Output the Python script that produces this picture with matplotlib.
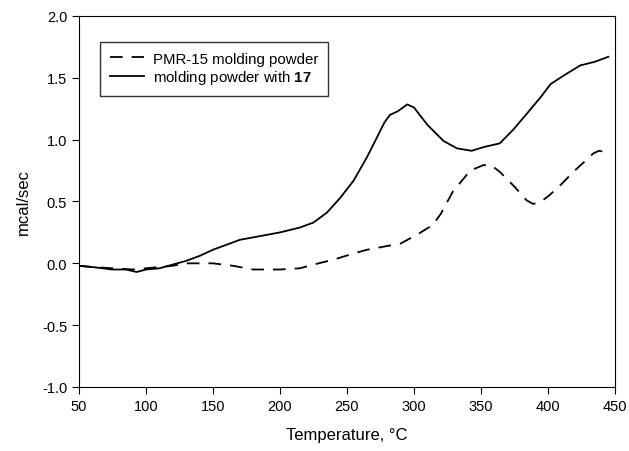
import matplotlib.pyplot as plt
import numpy as np

plt.rcParams['font.family'] = ['Liberation Sans', 'DejaVu Sans']
plt.rcParams['mathtext.fontset'] = 'custom'
plt.rcParams['mathtext.rm'] = 'Liberation Sans'
plt.rcParams['mathtext.bf'] = 'Liberation Sans:bold'

# PMR-15 molding powder (dashed)
temp_pmr = [50, 60, 75, 90, 100, 110, 120, 130, 150, 165, 180, 200, 215, 225,
            240, 255, 265, 280, 290, 302, 314, 320, 329, 342, 352, 358, 364,
            375, 384, 389, 395, 401, 410, 419, 428, 434, 438, 443]
heat_pmr = [-0.02, -0.03, -0.04, -0.05, -0.04, -0.03, -0.02, 0.0, 0.0, -0.02,
            -0.05, -0.05, -0.04, -0.01, 0.03, 0.08, 0.11, 0.14, 0.16, 0.23,
            0.31, 0.40, 0.58, 0.75, 0.795, 0.79, 0.74, 0.62, 0.51, 0.48,
            0.50, 0.55, 0.64, 0.74, 0.83, 0.89, 0.91, 0.90]

# molding powder with 17 (solid)
temp_17 = [50, 60, 75, 85, 93, 100, 110, 120, 130, 140, 150, 160, 170, 185,
           200, 215, 225, 235, 245, 255, 265, 272, 278, 282, 288, 295, 300,
           310, 322, 332, 343, 352, 364, 374, 385, 395, 402, 412, 424, 435, 445]
heat_17 = [-0.02, -0.03, -0.05, -0.05, -0.07, -0.05, -0.04, -0.01, 0.02, 0.06,
           0.11, 0.15, 0.19, 0.22, 0.25, 0.29, 0.33, 0.41, 0.53, 0.67, 0.86,
           1.01, 1.14, 1.20, 1.23, 1.285, 1.26, 1.12, 0.99, 0.93, 0.91, 0.94,
           0.97, 1.08, 1.22, 1.35, 1.45, 1.52, 1.60, 1.63, 1.67]

fig = plt.figure(figsize=(6.29, 4.52), dpi=100)
ax = fig.add_axes([0.1256, 0.1416, 0.8521, 0.8208])

ax.plot(temp_pmr, heat_pmr, color='black', lw=1.3, dashes=(7, 5),
        label='PMR-15 molding powder')
ax.plot(temp_17, heat_17, color='black', lw=1.3,
        label='molding powder with $\\mathbf{17}$')

ax.set_xlim(50, 450)
ax.set_ylim(-1.0, 2.0)
ax.set_xticks(np.arange(50, 451, 50))
ax.set_yticks(np.arange(-1.0, 2.01, 0.5))
ax.set_yticklabels([f'{v:.1f}' for v in np.arange(-1.0, 2.01, 0.5)])
ax.tick_params(direction='out', length=5, labelsize=10.5, top=False, right=False)
ax.set_xlabel('Temperature, °C', fontsize=12, labelpad=10)
ax.set_ylabel('mcal/sec', fontsize=12, labelpad=8)

leg = ax.legend(loc='upper left', bbox_to_anchor=(0.039, 0.930), fontsize=10.8,
                frameon=True, fancybox=False, edgecolor='black',
                handlelength=2.3, handletextpad=0.6, borderpad=0.65,
                borderaxespad=0, labelspacing=0.15)
leg.get_frame().set_linewidth(1.0)

fig.savefig('out.png', dpi=100)
